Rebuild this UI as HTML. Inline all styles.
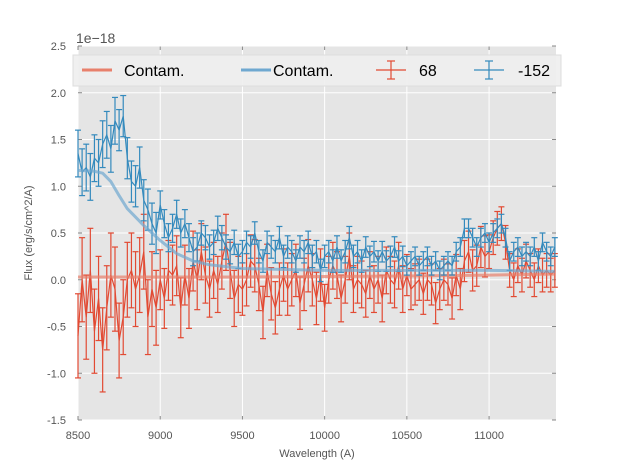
<!DOCTYPE html>
<html><head><meta charset="utf-8"><style>
body{margin:0;background:#fff}
svg{display:block;font-family:"Liberation Sans",sans-serif}
</style></head><body>
<svg id="c" width="617" height="467"></svg>
<script>
const wave = [];
for (let i = 0; i <= 116; i++) wave.push(8500 + 25 * i);
const fluxBlue = [1.35,1.15,1.2,1.1,1.3,1.25,1.45,1.55,1.4,1.7,
1.6,1.75,1.3,1.05,1.0,1.2,0.85,0.75,0.6,0.5,
0.8,0.6,0.45,0.55,0.7,0.5,0.6,0.45,0.3,0.35,
0.5,0.45,0.35,0.4,0.55,0.45,0.35,0.3,0.4,0.25,
0.3,0.4,0.35,0.5,0.3,0.2,0.4,0.35,0.3,0.45,
0.25,0.35,0.3,0.2,0.35,0.3,0.4,0.25,0.3,0.1,
0.25,0.3,0.2,0.35,0.2,0.3,0.45,0.25,0.3,0.2,
0.35,0.25,0.3,0.2,0.3,0.2,0.25,0.35,0.2,0.25,
0.15,0.2,0.25,0.15,0.2,0.25,0.15,0.2,0.1,0.15,
0.2,0.15,0.3,0.35,0.55,0.55,0.45,0.35,0.45,0.5,
0.4,0.5,0.55,0.6,0.45,0.2,0.3,0.35,0.25,0.3,
0.25,0.35,0.2,0.4,0.3,0.25,0.35];
const fluxRed = [-0.6,0.0,-0.4,0.1,-0.55,-0.2,-0.75,-0.3,0.05,-0.1,
-0.65,-0.4,0.0,0.1,-0.1,0.05,0.3,-0.4,-0.1,-0.3,
0.0,-0.2,0.1,0.05,0.15,-0.3,0.05,-0.2,0.2,0.0,
0.3,0.05,-0.1,0.1,-0.05,0.2,0.4,0.1,-0.2,-0.05,
-0.1,0.0,0.2,0.15,-0.05,-0.35,0.1,-0.15,-0.3,-0.1,
0.05,-0.1,0.0,0.1,-0.25,-0.05,0.15,0.0,-0.2,0.05,
-0.3,0.0,0.15,0.05,-0.2,0.0,0.25,-0.1,0.0,-0.05,
-0.15,0.05,-0.1,0.0,-0.2,0.1,0.0,-0.05,0.15,-0.1,
0.05,-0.1,-0.05,0.0,-0.15,0.0,-0.05,-0.25,-0.1,0.0,
-0.05,-0.2,0.05,-0.1,0.2,0.3,0.1,0.15,0.35,0.25,
0.3,0.45,0.55,0.6,0.4,0.1,0.0,0.15,0.05,0.2,
0.1,0.0,0.15,0.05,0.1,0.05,0.1];
const errBlueSeg = [0.25,0.22,0.15,0.13,0.12,0.12,0.12,0.11,0.1,0.1,0.1,0.1];
const errRedSeg = [0.45,0.4,0.32,0.3,0.28,0.28,0.25,0.25,0.22,0.22,0.18,0.18];
const contamX = [8500,8600,8650,8700,8750,8800,8850,8900,9000,9100,9200,9300,9500,10000,10500,11000,11400];
const contamBlue = [1.17,1.16,1.14,1.05,0.9,0.76,0.67,0.58,0.42,0.28,0.2,0.16,0.12,0.1,0.1,0.1,0.09];
const contamRed = [0.03,0.03,0.03,0.03,0.03,0.03,0.03,0.03,0.03,0.03,0.03,0.03,0.03,0.035,0.04,0.05,0.06];
const xTicks = [8500,9000,9500,10000,10500,11000];
const yTicks = [-1.5,-1.0,-0.5,0.0,0.5,1.0,1.5,2.0,2.5];

const L=78,R=556,T=46,B=420;
const xs=v=>L+(v-8500)*(R-L)/(11407-8500);
const ys=v=>B-(v+1.5)*(B-T)/4;
const svg=document.getElementById('c');
const NS='http://www.w3.org/2000/svg';
function mk(tag,attrs,parent){const e=document.createElementNS(NS,tag);for(const k in attrs)e.setAttribute(k,attrs[k]);(parent||svg).appendChild(e);return e;}

const bg=mk('rect',{x:L,y:T,width:R-L,height:B-T,fill:'#e5e5e5'});


xTicks.forEach(t=>{const x=xs(t);
 const g=mk('line',{x1:x,x2:x,y1:T,y2:B,stroke:'#fff','stroke-width':1});
 
 
 mk('line',{x1:x,x2:x,y1:B,y2:B-4,stroke:'#888'});mk('line',{x1:x,x2:x,y1:T,y2:T+4,stroke:'#888'});
 const tx=mk('text',{x:x,y:B+19,'text-anchor':'middle','font-size':11,fill:'#555'});tx.textContent=t;
 
 });
yTicks.forEach(t=>{const y=ys(t);
 const g=mk('line',{x1:L,x2:R,y1:y,y2:y,stroke:'#fff','stroke-width':1});
 
 
 mk('line',{x1:L,x2:L+4,y1:y,y2:y,stroke:'#888'});mk('line',{x1:R,x2:R-4,y1:y,y2:y,stroke:'#888'});
 const tx=mk('text',{x:L-12,y:y+4,'text-anchor':'end','font-size':11,fill:'#555'});tx.textContent=t.toFixed(1);
 
 });

function contam(vals,color,name){
 const p=mk('polyline',{points:contamX.map((x,i)=>xs(x)+','+ys(vals[i])).join(' '),fill:'none',stroke:color,'stroke-width':3,'stroke-opacity':0.7,'stroke-linejoin':'round'});
 
 }
function series(vals,segErr,color,name){
 const g=mk('g',{stroke:color,'stroke-width':1.2,fill:'none'});
 
 
 vals.forEach((v,i)=>{const e=segErr[Math.floor(i/10)];const x=xs(wave[i]);
  mk('line',{x1:x,x2:x,y1:ys(v-e),y2:ys(v+e)},g);
  mk('line',{x1:x-3,x2:x+3,y1:ys(v-e),y2:ys(v-e)},g);
  mk('line',{x1:x-3,x2:x+3,y1:ys(v+e),y2:ys(v+e)},g);});
 mk('polyline',{points:vals.map((v,i)=>xs(wave[i])+','+ys(v)).join(' ')},g);}
series(fluxRed,errRedSeg,'#e24a33','series-68');
contam(contamRed,'#e8806c','contam-red-line');
series(fluxBlue,errBlueSeg,'#348abd','series-minus152');
contam(contamBlue,'#6fa8d0','contam-blue-line');

const lg=mk('g',{});


mk('rect',{x:73,y:55,width:488,height:31,fill:'#eeeeee','fill-opacity':0.9,stroke:'#ddd'},lg);
mk('line',{x1:82,x2:112,y1:70,y2:70,stroke:'#e8806c','stroke-width':3},lg);
mk('line',{x1:241,x2:271,y1:70,y2:70,stroke:'#6fa8d0','stroke-width':3},lg);
[[376,'#e24a33'],[474,'#348abd']].forEach(([x,c])=>{
 mk('line',{x1:x,x2:x+30,y1:70,y2:70,stroke:c,'stroke-width':1.2},lg);
 mk('line',{x1:x+15,x2:x+15,y1:61,y2:79,stroke:c,'stroke-width':1.2},lg);
 mk('line',{x1:x+11,x2:x+19,y1:61,y2:61,stroke:c,'stroke-width':1.2},lg);
 mk('line',{x1:x+11,x2:x+19,y1:79,y2:79,stroke:c,'stroke-width':1.2},lg);});
[[124,'Contam.'],[273,'Contam.'],[419,'68'],[518,'-152']].forEach(([x,t])=>{
 const tx=mk('text',{x:x,y:76,'font-size':16,fill:'#000'},lg);tx.textContent=t;
 
 });

const off=mk('text',{x:76,y:43,'font-size':14,fill:'#555'});off.textContent='1e\u221218';


const xl=mk('text',{x:317,y:457,'text-anchor':'middle','font-size':11,fill:'#555'});xl.textContent='Wavelength (A)';


const yl=mk('text',{x:0,y:0,'text-anchor':'middle','font-size':11,fill:'#555',transform:'translate(32,233) rotate(-90)'});yl.textContent='Flux (erg/s/cm^2/A)';


</script>
</body></html>
